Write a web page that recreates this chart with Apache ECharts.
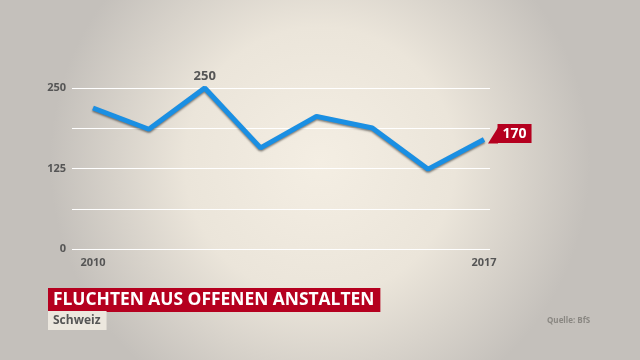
<!DOCTYPE html>
<html><head><meta charset="utf-8">
<script src="https://cdn.jsdelivr.net/npm/echarts@6/dist/echarts.min.js"></script>
<style>html,body{margin:0;padding:0;}#c{width:640px;height:360px;}</style>
</head><body><div id="c"></div>
<script>
const years = [2010, 2011, 2012, 2013, 2014, 2015, 2016, 2017];
const values = [219, 186, 250, 157, 206, 188, 124, 170];
const yTicks = [0, 125, 250];
const xTicks = [2010, 2017];
const titleText = 'FLUCHTEN AUS OFFENEN ANSTALTEN';
const subText = 'Schweiz';
const sourceText = 'Quelle: BfS';

const chart = echarts.init(document.getElementById('c'));
const F = '"Open Sans", "Noto Sans", sans-serif';
const data = years.map((y, i) => [y, values[i]]);
const last = data[data.length - 1];
chart.setOption({
  backgroundColor: new echarts.graphic.RadialGradient(0.5, 0.45, 0.75, [
    {offset: 0, color: '#f4eee3'},
    {offset: 0.5, color: '#ebe5da'},
    {offset: 1, color: '#c4c0bb'}
  ]),
  title: [
    {text: titleText, left: 48, top: 288, padding: [4, 6, 3, 5], backgroundColor: '#b5001f',
     textStyle: {color: '#fff', fontFamily: F, fontWeight: 'bold', fontSize: 17.4, lineHeight: 17}},
    {text: subText, left: 48, top: 311, padding: [3, 6, 3, 5], backgroundColor: '#ece7de',
     textStyle: {color: '#555', fontFamily: F, fontWeight: 'bold', fontSize: 12, lineHeight: 13}},
    {text: sourceText, left: 547, top: 317, padding: 0,
     textStyle: {color: '#8a8782', fontFamily: F, fontWeight: 'bold', fontSize: 8}}
  ],
  grid: {left: 72, right: 150, top: 88, bottom: 111},
  xAxis: {
    type: 'value', min: 2009.624, max: 2017.107,
    axisLine: {show: false}, axisTick: {show: false}, splitLine: {show: false},
    axisLabel: {customValues: xTicks, color: '#555', fontFamily: F, fontWeight: 'bold', fontSize: 11, margin: 8, formatter: v => String(v)}
  },
  yAxis: {
    type: 'value', min: 0, max: 250, interval: 62.5,
    axisLine: {show: false}, axisTick: {show: false},
    splitLine: {lineStyle: {color: '#ffffff', width: 1.2}},
    axisLabel: {color: '#555', fontFamily: F, fontWeight: 'bold', fontSize: 11, margin: 6,
      formatter: v => (yTicks.indexOf(v) >= 0 ? String(v) : '')}
  },
  series: [{
    type: 'line', data: data, showSymbol: false, symbol: 'none', animation: false,
    lineStyle: {color: '#1a8fe3', width: 5, shadowColor: 'rgba(0,0,0,0.45)', shadowBlur: 2, shadowOffsetY: 1.5},
    label: {show: false},
    markPoint: {
      animation: false,
      data: [
        {coord: data[2], symbol: 'circle', symbolSize: 1, itemStyle: {color: 'rgba(0,0,0,0)'},
         label: {show: true, formatter: String(values[2]), position: 'top', distance: 5, color: '#555',
           fontFamily: F, fontWeight: 'bold', fontSize: 13}},
        {coord: last, symbol: 'path://M10,0 L10,16 L0,16 Z', symbolSize: [10, 16], symbolKeepAspect: false,
         symbolOffset: [9, -4],
         itemStyle: {color: '#b5001f'}, label: {show: false}},
        {coord: last, symbol: 'rect', symbolSize: 1, itemStyle: {color: 'rgba(0,0,0,0)'},
         label: {show: true, formatter: String(values[7]), position: 'right', offset: [8, -6],
           backgroundColor: '#b5001f', padding: [3, 5, 2, 5], color: '#fff',
           fontFamily: F, fontWeight: 'bold', fontSize: 14}}
      ]
    }
  }]
});
</script></body></html>
